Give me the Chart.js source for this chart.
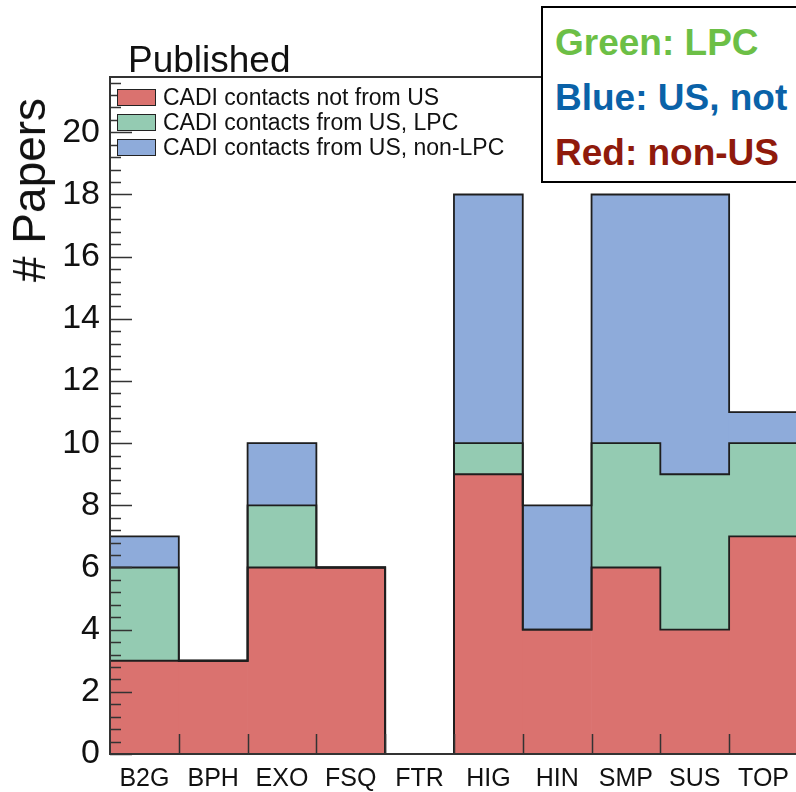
<!DOCTYPE html>
<html lang="en">
<head>
  <meta charset="UTF-8" />
  <title>Published - # Papers</title>
  <script src="https://cdn.jsdelivr.net/npm/chart.js"></script>
  <style>
    html, body { margin: 0; padding: 0; overflow: hidden; background: #fff; }
    body { width: 796px; height: 792px; position: relative; font-family: "Liberation Sans", Arial, sans-serif; }
    #chart { position: absolute; left: 0; top: 0; }
    .txt { position: absolute; white-space: nowrap; color: #111; }
    #title { left: 128px; top: 41px; font-size: 37px; line-height: 37px; }
    #ytitle { left: 29px; top: 190px; font-size: 46px; line-height: 46px; transform: translate(-50%, -50%) rotate(-90deg); }
    .leg { position: absolute; left: 117px; height: 25px; display: flex; align-items: center; font-size: 23px; line-height: 25px; color: #111; white-space: nowrap; }
    .leg span.box { display: inline-block; width: 39px; height: 17px; box-sizing: border-box; border: 1px solid #222; margin-right: 7px; }
    #note { position: absolute; left: 541px; top: 6px; width: 300px; height: 177px; box-sizing: border-box;
            border: 2px solid #000; background: #fff; padding: 7px 0 0 12px; font-weight: bold; font-size: 37px; }
    #note div { line-height: 55px; height: 55px; white-space: nowrap; }
  </style>
</head>
<body>
  <canvas id="chart" width="799" height="792"></canvas>

  <div id="title" class="txt">Published</div>
  <div id="ytitle" class="txt"># Papers</div>

  <div class="leg" style="top:85px"><span class="box" style="background:#da726f"></span>CADI contacts not from US</div>
  <div class="leg" style="top:110px"><span class="box" style="background:#94cbb2"></span>CADI contacts from US, LPC</div>
  <div class="leg" style="top:135px"><span class="box" style="background:#8eabda"></span>CADI contacts from US, non-LPC</div>

  <div id="note">
    <div style="color:#6cbf46">Green: LPC</div>
    <div style="color:#0a62a8">Blue: US, not</div>
    <div style="color:#8f1a0c">Red: non-US</div>
  </div>

  <script>
    // analysis groups
    const groups = ['B2G', 'BPH', 'EXO', 'FSQ', 'FTR', 'HIG', 'HIN', 'SMP', 'SUS', 'TOP'];
    // papers per group, by where the CADI contact is from
    const notUS    = [3, 3, 6, 6, 0, 9, 4, 6, 4, 7];
    const usLPC    = [3, 0, 2, 0, 0, 1, 0, 4, 5, 3];
    const usNonLPC = [1, 0, 2, 0, 0, 8, 4, 8, 9, 1];
    const yTop = 21.78;

    Chart.defaults.font.family = '"Liberation Sans", Arial, sans-serif';

    // ROOT style: step outline of every stacked level, frame and inner ticks
    const histStyle = {
      id: 'histStyle',
      afterDatasetsDraw(chart) {
        const ctx = chart.ctx;
        const x = chart.scales.x, y = chart.scales.y;
        const area = chart.chartArea;
        const n = groups.length;
        const edge = i => x.getPixelForValue(i - 0.5);

        ctx.save();
        // outlines
        ctx.strokeStyle = '#1e1e1e';
        ctx.lineWidth = 1.8;
        const levels = [notUS, usLPC, usNonLPC];
        let cum = new Array(n).fill(0);
        levels.forEach(arr => {
          cum = cum.map((v, i) => v + arr[i]);
          ctx.beginPath();
          ctx.moveTo(edge(0), y.getPixelForValue(0));
          for (let i = 0; i < n; i++) {
            ctx.lineTo(edge(i), y.getPixelForValue(cum[i]));
            ctx.lineTo(edge(i + 1), y.getPixelForValue(cum[i]));
          }
          ctx.lineTo(edge(n), y.getPixelForValue(0));
          ctx.stroke();
        });

        // frame
        ctx.strokeStyle = '#333';
        ctx.lineWidth = 2;
        ctx.strokeRect(area.left, area.top, area.right - area.left, area.bottom - area.top);

        // y ticks (major + 4 minor)
        ctx.lineWidth = 1.5;
        ctx.beginPath();
        for (let v = 0; v <= yTop + 1e-6; v += 0.4) {
          const py = Math.round(y.getPixelForValue(v)) + 0.5;
          const major = Math.abs(v / 2 - Math.round(v / 2)) < 1e-6;
          ctx.moveTo(area.left, py);
          ctx.lineTo(area.left + (major ? 22 : 11), py);
        }
        // x ticks at bin edges
        for (let i = 1; i < n; i++) {
          const px = Math.round(edge(i)) + 0.5;
          ctx.moveTo(px, area.bottom);
          ctx.lineTo(px, area.bottom - 20);
        }
        ctx.stroke();
        ctx.restore();
      }
    };

    new Chart(document.getElementById('chart'), {
      type: 'bar',
      data: {
        labels: groups,
        datasets: [
          { label: 'CADI contacts not from US', data: notUS, backgroundColor: '#da726f' },
          { label: 'CADI contacts from US, LPC', data: usLPC, backgroundColor: '#94cbb2' },
          { label: 'CADI contacts from US, non-LPC', data: usNonLPC, backgroundColor: '#8eabda' }
        ]
      },
      options: {
        responsive: false,
        animation: false,
        layout: { padding: { top: 77, left: 0, right: 0, bottom: 0 } },
        datasets: { bar: { categoryPercentage: 1, barPercentage: 1, borderWidth: 0 } },
        plugins: { legend: { display: false }, tooltip: { enabled: false } },
        scales: {
          x: {
            stacked: true,
            grid: { display: false, drawTicks: false },
            border: { display: false },
            ticks: { color: '#111', font: { size: 25 }, padding: 10, maxRotation: 0, autoSkip: false },
            afterFit: s => { s.height = 38; }
          },
          y: {
            stacked: true,
            min: 0,
            max: yTop,
            grid: { display: false, drawTicks: false },
            border: { display: false },
            ticks: { stepSize: 2, includeBounds: false, color: '#111', font: { size: 34 }, padding: 10 },
            afterFit: s => { s.width = 110; }
          }
        }
      },
      plugins: [histStyle]
    });
  </script>
</body>
</html>
